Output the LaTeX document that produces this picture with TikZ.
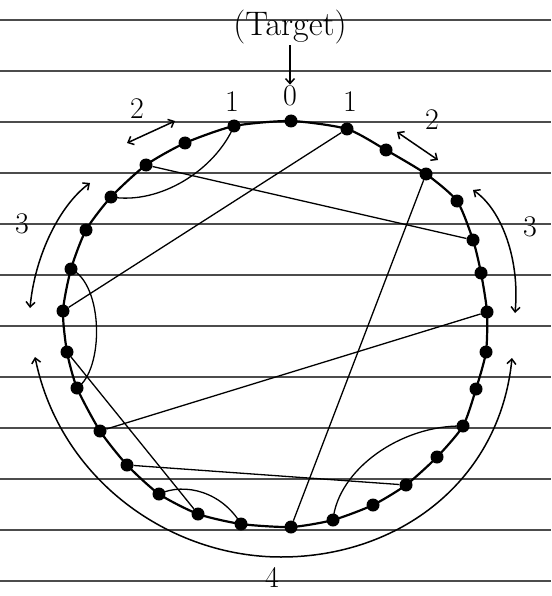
\documentclass[tikz,border=0pt]{standalone}
\usepackage{xcolor}
\usepackage{tikz}
\usetikzlibrary{arrows.meta,positioning}

\begin{document}
\begin{tikzpicture}[
  x=1pt,y=-1pt,
  dot/.style={circle,fill=black,inner sep=0pt,minimum size=13pt},
  ring/.style={line width=2.2pt},
  chord/.style={line width=1.3pt},
  span/.style={{Straight Barb[length=5pt,width=9pt]}-{Straight Barb[length=5pt,width=9pt]},line width=1.5pt},
  tip/.style={-{Straight Barb[length=5pt,width=9pt]},line width=1.5pt},
  lab/.style={font=\fontsize{30}{32}\selectfont,inner sep=1pt},
  paper/.style={black!70,line width=1.3pt}
]
  \useasboundingbox[fill=white] (0,0) rectangle (551,596);
  \foreach \ly in {20,71,122,173,224,275,326,377,428,479,530,581}
    \draw[paper] (0,\ly) -- (551,\ly);

  % the ring of positions
  \node[dot] (t0) at (291,121) {};
  \node[dot] (bt) at (291,527) {};
  \foreach \n/\px/\py in {1/234/126,2/185/143,3/146/165,4/111/197,5/86/230,6/71/269,7/63/311,
      8/67/352,9/77/388,10/100/431,11/127/465,12/159/494,13/198/514,14/241/524}
    \node[dot] (l\n) at (\px,\py) {};
  \foreach \n/\px/\py in {1/347/129,2/386/150,3/426/174,4/457/201,5/473/240,6/481/273,7/487/312,
      8/486/352,9/476/389,10/463/426,11/437/457,12/406/485,13/373/505,14/333/520}
    \node[dot] (r\n) at (\px,\py) {};
  \draw[ring] plot[smooth cycle,tension=0.4] coordinates {(t0.center) (r1.center) (r2.center)
    (r3.center) (r4.center) (r5.center) (r6.center) (r7.center) (r8.center) (r9.center)
    (r10.center) (r11.center) (r12.center) (r13.center) (r14.center) (bt.center)
    (l14.center) (l13.center) (l12.center) (l11.center) (l10.center) (l9.center)
    (l8.center) (l7.center) (l6.center) (l5.center) (l4.center) (l3.center)
    (l2.center) (l1.center)};

  % chords
  \draw[chord] (l1.center) .. controls (215,170) and (160,205) .. (l4.center);
  \draw[chord] (l6.center) .. controls (104,285) and (104,370) .. (l9.center);
  \draw[chord] (l12.center) .. controls (185,482) and (222,492) .. (l14.center);
  \draw[chord] (r14.center) .. controls (338,470) and (400,425) .. (r10.center);
  \draw[chord] (l3) -- (r5);
  \draw[chord] (r1) -- (l7);
  \draw[chord] (r3) -- (bt);
  \draw[chord] (l8) -- (l13);
  \draw[chord] (l10) -- (r7);
  \draw[chord] (l11) -- (r12);

  % labels
  \node[lab,font=\fontsize{34}{36}\selectfont] (target) at (290,27) {(Target)};
  \node[lab] (lab0) at (290,96) {0};
  \node[lab] (labl1) at (232,102) {1};
  \node[lab] (labr1) at (350,102) {1};
  \node[lab] (labl2) at (137,109) {2};
  \node[lab] (labr2) at (432,120) {2};
  \node[lab] (labl3) at (22,224) {3};
  \node[lab] (labr3) at (530,227) {3};
  \node[lab] (lab4) at (272,577) {4};
  \draw[tip] (target) -- (lab0);

  % distance spans
  \coordinate (sl2a) at (127,143);
  \coordinate (sl2b) at (175,121);
  \coordinate (sr2a) at (397,132);
  \coordinate (sr2b) at (438,160);
  \coordinate (sl3a) at (90,183);
  \coordinate (sl3b) at (30,308);
  \coordinate (sr3a) at (473,190);
  \coordinate (sr3b) at (515,313);
  \coordinate (s4a) at (35,357);
  \coordinate (s4m) at (281,557);
  \coordinate (s4b) at (512,358);
  \draw[span] (sl2a) -- (sl2b);
  \draw[span] (sr2a) -- (sr2b);
  \draw[span] (sl3a) .. controls (60,205) and (35,255) .. (sl3b);
  \draw[span] (sr3a) .. controls (502,210) and (520,260) .. (sr3b);
  \draw[span] (s4a) .. controls (60,480) and (170,557) .. (s4m)
    .. controls (400,557) and (500,480) .. (s4b);
\end{tikzpicture}
\end{document}
